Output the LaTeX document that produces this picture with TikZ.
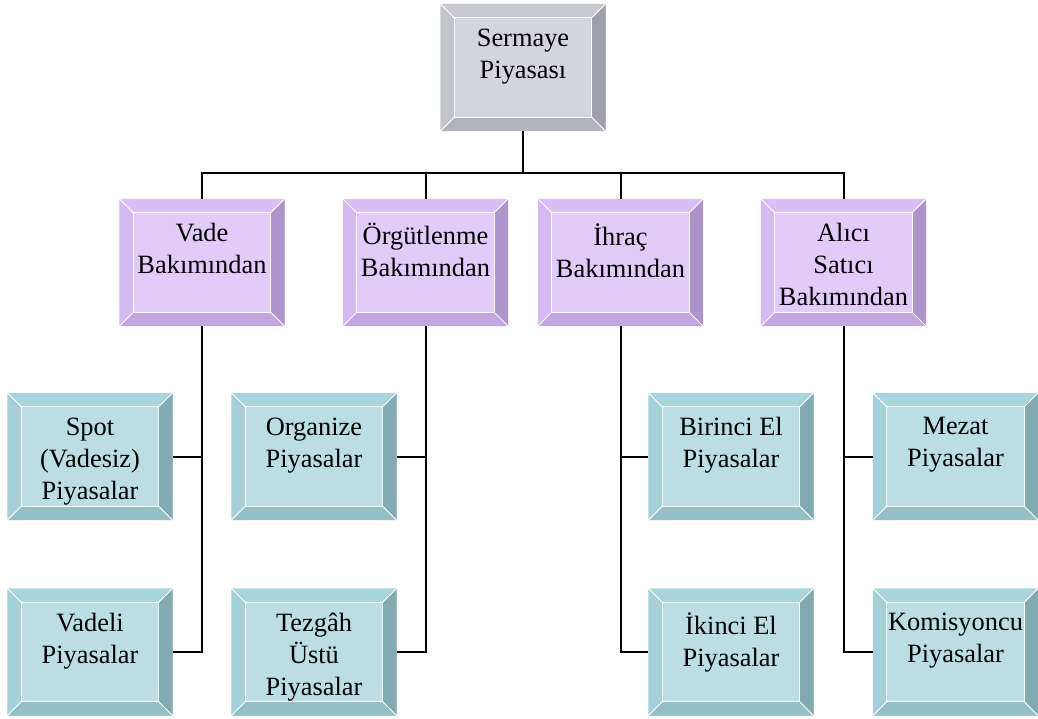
\documentclass[tikz,border=0pt]{standalone}
\usepackage{fontspec}
\setmainfont{Liberation Serif}
\usetikzlibrary{calc}
\definecolor{gface}{HTML}{D4D4DC}
\definecolor{gtop}{HTML}{C9C9D3}
\definecolor{gleft}{HTML}{C4C4CF}
\definecolor{gright}{HTML}{A0A0AD}
\definecolor{gbottom}{HTML}{B3B3BF}
\definecolor{pface}{HTML}{E1CBFA}
\definecolor{ptop}{HTML}{DABEF6}
\definecolor{pleft}{HTML}{D5B9F1}
\definecolor{pright}{HTML}{AD94C9}
\definecolor{pbottom}{HTML}{C3A5E0}
\definecolor{tface}{HTML}{BADEE3}
\definecolor{ttop}{HTML}{A9D4DB}
\definecolor{tleft}{HTML}{A5D0D7}
\definecolor{tright}{HTML}{81ABB1}
\definecolor{tbottom}{HTML}{94BFC5}
\newcommand\bv{14}
\tikzset{
  bbox/.style={rectangle, inner sep=0pt, minimum width=165pt, minimum height=127pt},
  btext/.style={inner sep=0pt, align=center, anchor=north,
    font=\fontsize{26.4}{32}\selectfont, execute at begin node=\strut},
  bevline/.style={white, line width=0.9pt},
  conn/.style={black, line width=2pt}
}
\newcommand\bevbox[4]{%
  \node[bbox, fill=#3face] (#1) at (#2) {};
  \fill[#3top] (#1.north west) -- (#1.north east) -- ($(#1.north east)+(-\bv,\bv)$) -- ($(#1.north west)+(\bv,\bv)$) -- cycle;
  \fill[#3bottom] (#1.south west) -- (#1.south east) -- ($(#1.south east)+(-\bv,-\bv)$) -- ($(#1.south west)+(\bv,-\bv)$) -- cycle;
  \fill[#3left] (#1.north west) -- (#1.south west) -- ($(#1.south west)+(\bv,-\bv)$) -- ($(#1.north west)+(\bv,\bv)$) -- cycle;
  \fill[#3right] (#1.north east) -- (#1.south east) -- ($(#1.south east)+(-\bv,-\bv)$) -- ($(#1.north east)+(-\bv,\bv)$) -- cycle;
  \draw[bevline] ($(#1.north west)+(\bv,\bv)$) rectangle ($(#1.south east)+(-\bv,-\bv)$);
  \draw[bevline] (#1.north west) -- ($(#1.north west)+(\bv,\bv)$)
                 (#1.north east) -- ($(#1.north east)+(-\bv,\bv)$)
                 (#1.south west) -- ($(#1.south west)+(\bv,-\bv)$)
                 (#1.south east) -- ($(#1.south east)+(-\bv,-\bv)$);
  \node[btext] (#1-t) at ($(#1.north)+(0,24.6)$) {#4};
}
\begin{document}
\begin{tikzpicture}[x=1pt, y=-1pt]
\useasboundingbox (0,0) rectangle (1038,718);
\bevbox{top}{523,67.5}{g}{Sermaye\\Piyasası}
\bevbox{vade}{202,262.5}{p}{Vade\\Bakımından}
\bevbox{org}{425.5,262.5}{p}{Örgütlenme\\Bakımından}
\bevbox{ihrac}{620.5,262.5}{p}{İhraç\\Bakımından}
\bevbox{alici}{843.5,262.5}{p}{Alıcı\\Satıcı\\Bakımından}
\bevbox{spot}{90,456.5}{t}{Spot\\(Vadesiz)\\Piyasalar}
\bevbox{vadeli}{90,652}{t}{Vadeli\\Piyasalar}
\bevbox{organize}{314,456.5}{t}{Organize\\Piyasalar}
\bevbox{tezgah}{314,652}{t}{Tezgâh\\Üstü\\Piyasalar}
\bevbox{birinci}{731,456.5}{t}{Birinci El\\Piyasalar}
\bevbox{ikinci}{731,652}{t}{İkinci El\\Piyasalar}
\bevbox{mezat}{955.5,456.5}{t}{Mezat\\Piyasalar}
\bevbox{komisyon}{955.5,652}{t}{Komisyoncu\\Piyasalar}
\coordinate (bus) at (523,173);
\draw[conn] (top.south) -- (bus);
\draw[conn] (vade.north) |- (bus) -| (alici.north);
\draw[conn] (org.north) -- (org.north |- bus);
\draw[conn] (ihrac.north) -- (ihrac.north |- bus);
\draw[conn] (spot.east) -| (vade.south);
\draw[conn] (vadeli.east) -| (vade.south);
\draw[conn] (organize.east) -| (org.south);
\draw[conn] (tezgah.east) -| (org.south);
\draw[conn] (birinci.west) -| (ihrac.south);
\draw[conn] (ikinci.west) -| (ihrac.south);
\draw[conn] (mezat.west) -| (alici.south);
\draw[conn] (komisyon.west) -| (alici.south);
\end{tikzpicture}
\end{document}
